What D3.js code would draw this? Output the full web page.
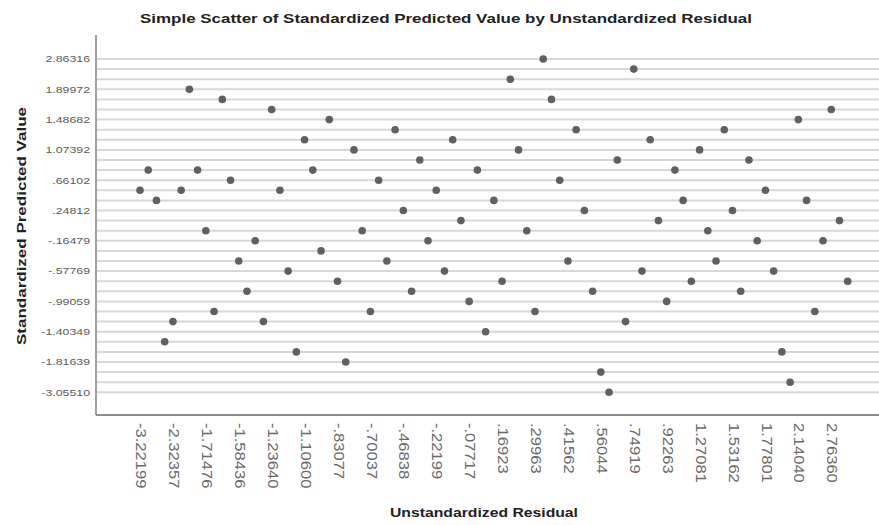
<!DOCTYPE html>
<html><head><meta charset="utf-8">
<script src="https://cdn.jsdelivr.net/npm/d3@7/dist/d3.min.js"></script>
<style>body{margin:0;background:#fff}svg{display:block;font-family:Arial,"Liberation Sans",sans-serif}</style>
</head><body><svg id="chart" width="879" height="525"></svg>
<script>
// x categories: Unstandardized Residual (ascending); every 4th is labelled
const residualCategories = [
"-3.22199","-2.98640","-2.70037","-2.46838","-2.32357","-2.09158","-1.94676","-1.83077",
"-1.71476","-1.68199","-1.64436","-1.60600","-1.58436","-1.46838","-1.35238","-1.28077",
"-1.23640","-1.20037","-1.16476","-1.13162","-1.10600","-1.04436","-.95357","-.88199",
"-.83077","-.80600","-.76838","-.73640","-.70037","-.64436","-.58077","-.52199",
"-.46838","-.40600","-.33640","-.28436","-.22199","-.17717","-.13162","-.10600",
"-.07717","-.03640",".04282",".10600",".16923",".20037",".23640",".26838",
".29963",".33077",".36199",".38436",".41562",".45244",".48838",".52199",
".56044",".60600",".65244",".70037",".74919",".79963",".83640",".88077",
".92263","1.01476","1.10600","1.18199","1.27081","1.33640","1.41562","1.46838",
"1.53162","1.58436","1.66199","1.71476","1.77801","1.85357","1.94676","2.04436",
"2.14040","2.28077","2.43640","2.58199","2.76360","2.98640","3.23640"
];
// y categories: Standardized Predicted Value (descending); every 3rd is labelled
const predictedCategories = [
"2.86316","2.58789","2.17499","1.89972","1.76209","1.62445","1.48682","1.34919",
"1.21155","1.07392",".93629",".79865",".66102",".52339",".38575",".24812",
".11049","-.02715","-.16479","-.30242","-.44005","-.57769","-.71532","-.85295",
"-.99059","-1.12822","-1.26585","-1.40349","-1.54112","-1.67875","-1.81639","-2.22929",
"-2.64219","-3.05510"
];
// predicted value of each point, in the order of residualCategories
const pointPredicted = [
".52339",".79865",".38575","-1.54112","-1.26585",".52339","1.89972",".79865","-.02715","-1.12822",
"1.76209",".66102","-.44005","-.85295","-.16479","-1.26585","1.62445",".52339","-.57769","-1.67875",
"1.21155",".79865","-.30242","1.48682","-.71532","-1.81639","1.07392","-.02715","-1.12822",".66102",
"-.44005","1.34919",".24812","-.85295",".93629","-.16479",".52339","-.57769","1.21155",".11049",
"-.99059",".79865","-1.40349",".38575","-.71532","2.17499","1.07392","-.02715","-1.12822","2.86316",
"1.76209",".66102","-.44005","1.34919",".24812","-.85295","-2.22929","-3.05510",".93629","-1.26585",
"2.58789","-.57769","1.21155",".11049","-.99059",".79865",".38575","-.71532","1.07392","-.02715",
"-.44005","1.34919",".24812","-.85295",".93629","-.16479",".52339","-.57769","-1.67875","-2.64219",
"1.48682",".38575","-1.12822","-.16479","1.62445",".11049","-.71532"
];
const xTickLabels = residualCategories.filter((d, i) => i % 4 === 0);
const yTickLabels = predictedCategories.filter((d, i) => i % 3 === 0);

const titleText = "Simple Scatter of Standardized Predicted Value by Unstandardized Residual";
const xTitle = "Unstandardized Residual";
const yTitle = "Standardized Predicted Value";

const svg = d3.select("#chart");
const plot = {left: 96, right: 879, top: 35, bottom: 415};

const x = d3.scalePoint().domain(residualCategories).range([140, 847.7]);
const y = d3.scalePoint().domain(predictedCategories).range([59, 392.3]);

// gridlines
svg.append("g").selectAll("line").data(predictedCategories).join("line")
  .attr("x1", plot.left).attr("x2", plot.right)
  .attr("y1", d => y(d)).attr("y2", d => y(d))
  .attr("stroke", "#d8d8d8").attr("stroke-width", 2);

// axes lines
svg.append("line").attr("x1", plot.left).attr("x2", plot.left)
  .attr("y1", plot.top).attr("y2", plot.bottom)
  .attr("stroke", "#a0a0a0").attr("stroke-width", 2);
svg.append("line").attr("x1", plot.left).attr("x2", plot.right)
  .attr("y1", plot.bottom).attr("y2", plot.bottom)
  .attr("stroke", "#8c8c8c").attr("stroke-width", 2);

// y tick labels
svg.append("g").selectAll("text").data(yTickLabels).join("text")
  .attr("transform", d => `translate(90,${y(d)}) scale(1.3,1)`)
  .attr("dy", "0.35em").attr("text-anchor", "end")
  .attr("font-size", 9.5).attr("fill", "#5a5a5a").text(d => d);

// x tick labels
svg.append("g").selectAll("text").data(xTickLabels).join("text")
  .attr("transform", d => `translate(${x(d) + 1},423) rotate(90) scale(1.2,1)`)
  .attr("dy", "0.35em").attr("text-anchor", "start")
  .attr("font-size", 13.8).attr("fill", "#6a6a6a").text(d => d);

// points
svg.append("g").selectAll("circle").data(residualCategories).join("circle")
  .attr("cx", d => x(d)).attr("cy", (d, i) => y(pointPredicted[i]))
  .attr("r", 3.8).attr("fill", "#606060");

// titles
svg.append("text").attr("x", 446).attr("y", 23).attr("text-anchor", "middle")
  .attr("font-size", 13).attr("font-weight", "bold").attr("fill", "#222")
  .attr("textLength", 612).attr("lengthAdjust", "spacingAndGlyphs").text(titleText);
svg.append("text").attr("x", 484).attr("y", 517).attr("text-anchor", "middle")
  .attr("font-size", 13).attr("font-weight", "bold").attr("fill", "#222")
  .attr("textLength", 188).attr("lengthAdjust", "spacingAndGlyphs").text(xTitle);
svg.append("text").attr("transform", "translate(26,226) rotate(-90)").attr("text-anchor", "middle")
  .attr("font-size", 13.5).attr("font-weight", "bold").attr("fill", "#222")
  .attr("textLength", 238).attr("lengthAdjust", "spacingAndGlyphs").text(yTitle);
</script></body></html>
